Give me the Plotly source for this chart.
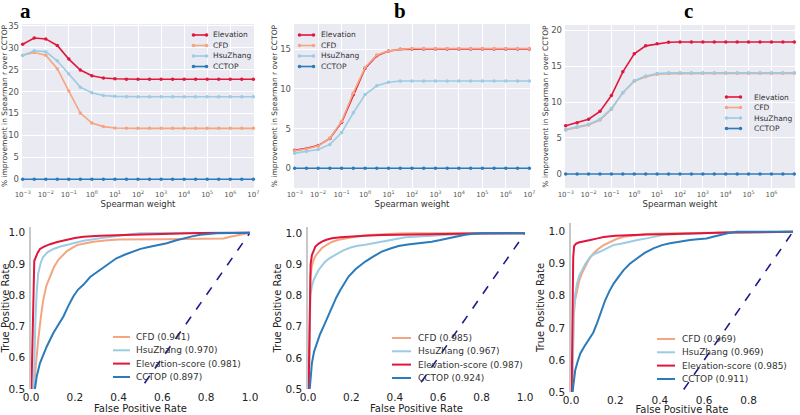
import plotly.graph_objects as go

W, H = 800, 415

# ---------------- data: top row (% improvement vs Spearman weight) ----------------
weights = [0.001, 0.00316, 0.01, 0.0316, 0.1, 0.316, 1.0, 3.16, 10.0, 31.6, 100.0,
           316.0, 1000.0, 3162.0, 10000.0, 31623.0, 100000.0, 316228.0, 1000000.0,
           3162278.0, 10000000.0]
weight_ticks = [1e-3, 1e-2, 1e-1, 1e0, 1e1, 1e2, 1e3, 1e4, 1e5, 1e6, 1e7]
weight_tick_labels = ["10<sup>−3</sup>", "10<sup>−2</sup>", "10<sup>−1</sup>", "10<sup>0</sup>",
                      "10<sup>1</sup>", "10<sup>2</sup>", "10<sup>3</sup>", "10<sup>4</sup>",
                      "10<sup>5</sup>", "10<sup>6</sup>", "10<sup>7</sup>"]
top_names = ["Elevation", "CFD", "HsuZhang", "CCTOP"]

a_elev = [30.8, 32.2, 32.0, 30.5, 27.4, 24.9, 23.6, 23.1, 22.9, 22.8, 22.8, 22.8, 22.8, 22.8,
          22.8, 22.8, 22.8, 22.8, 22.8, 22.8, 22.8]
a_cfd = [28.3, 28.9, 28.3, 25.2, 20.1, 15.1, 12.8, 12.0, 11.7, 11.6, 11.6, 11.6, 11.6, 11.6,
         11.6, 11.6, 11.6, 11.6, 11.6, 11.6, 11.6]
a_hsu = [28.2, 29.3, 29.1, 27.0, 24.0, 21.0, 19.7, 19.1, 18.9, 18.8, 18.8, 18.8, 18.8, 18.8,
         18.8, 18.8, 18.8, 18.8, 18.8, 18.8, 18.8]
a_cctop = [0.0, 0.0, 0.0, 0.0, 0.0, 0.0, 0.0, 0.0, 0.0, 0.0, 0.0, 0.0, 0.0, 0.0, 0.0, 0.0,
           0.0, 0.0, 0.0, 0.0, 0.0]

b_elev = [2.25, 2.5, 2.85, 3.75, 5.8, 9.3, 12.6, 14.2, 14.8, 15.0, 15.05, 15.05, 15.05, 15.05,
          15.05, 15.05, 15.05, 15.05, 15.05, 15.05, 15.05]
b_cfd = [2.2, 2.45, 2.8, 3.8, 5.9, 9.5, 12.7, 14.3, 14.8, 15.0, 15.1, 15.1, 15.1, 15.1, 15.1,
         15.1, 15.1, 15.1, 15.1, 15.1, 15.1]
b_hsu = [1.9, 2.1, 2.35, 3.0, 4.5, 7.0, 9.3, 10.4, 10.85, 11.0, 11.0, 11.0, 11.0, 11.0, 11.0,
         11.0, 11.0, 11.0, 11.0, 11.0, 11.0]
b_cctop = [0.0, 0.0, 0.0, 0.0, 0.0, 0.0, 0.0, 0.0, 0.0, 0.0, 0.0, 0.0, 0.0, 0.0, 0.0, 0.0,
           0.0, 0.0, 0.0, 0.0, 0.0]

c_elev = [6.7, 7.1, 7.6, 8.7, 10.9, 14.2, 16.7, 17.8, 18.1, 18.3, 18.33, 18.33, 18.33, 18.33,
          18.33, 18.33, 18.33, 18.33, 18.33, 18.33, 18.33]
c_cfd = [6.1, 6.5, 6.8, 7.5, 9.0, 11.3, 12.9, 13.5, 13.85, 13.95, 13.98, 13.98, 13.98, 13.98,
         13.98, 13.98, 13.98, 13.98, 13.98, 13.98, 13.98]
c_hsu = [6.2, 6.55, 6.9, 7.6, 9.1, 11.3, 12.95, 13.6, 13.95, 14.05, 14.07, 14.07, 14.07, 14.07,
         14.07, 14.07, 14.07, 14.07, 14.07, 14.07, 14.07]
c_cctop = [0.0, 0.0, 0.0, 0.0, 0.0, 0.0, 0.0, 0.0, 0.0, 0.0, 0.0, 0.0, 0.0, 0.0, 0.0, 0.0,
           0.0, 0.0, 0.0, 0.0, 0.0]

# ---------------- data: bottom row (ROC curves) ----------------
roc_names = ["CFD", "HsuZhang", "Elevation-score", "CCTOP"]
a_auc = ["0.941", "0.970", "0.981", "0.897"]
b_auc = ["0.985", "0.967", "0.987", "0.924"]
c_auc = ["0.969", "0.969", "0.985", "0.911"]
diag_x = [0.0, 1.0]
diag_y = [0.0, 1.0]

a_cfd_fpr = [0.012, 0.02, 0.033, 0.045, 0.056, 0.07, 0.087, 0.105, 0.125, 0.145, 0.163, 0.19,
             0.21, 0.25, 0.285, 0.35, 0.4, 0.6, 0.8, 0.88, 0.91, 0.95, 1.0]
a_cfd_tpr = [0.5, 0.57, 0.657, 0.73, 0.785, 0.83, 0.86, 0.89, 0.913, 0.928, 0.94, 0.952, 0.96,
             0.966, 0.971, 0.976, 0.978, 0.979, 0.979, 0.981, 0.987, 0.993, 1.0]
a_hsu_fpr = [0.012, 0.016, 0.02, 0.026, 0.033, 0.045, 0.056, 0.075, 0.1, 0.13, 0.163, 0.2,
             0.24, 0.315, 0.39, 0.45, 0.5, 0.6, 1.0]
a_hsu_tpr = [0.5, 0.62, 0.72, 0.81, 0.87, 0.905, 0.923, 0.937, 0.947, 0.955, 0.961, 0.968,
             0.974, 0.982, 0.99, 0.995, 0.998, 0.999, 1.0]
a_elev_fpr = [0.002, 0.008, 0.015, 0.03, 0.041, 0.06, 0.087, 0.12, 0.163, 0.2, 0.24, 0.315,
              0.467, 0.62, 0.77, 1.0]
a_elev_tpr = [0.5, 0.75, 0.91, 0.935, 0.948, 0.955, 0.963, 0.97, 0.977, 0.983, 0.987, 0.99,
              0.993, 0.997, 0.999, 1.0]
a_cctop_fpr = [0.018, 0.026, 0.041, 0.055, 0.072, 0.102, 0.125, 0.148, 0.17, 0.193, 0.215,
               0.239, 0.27, 0.315, 0.35, 0.39, 0.43, 0.467, 0.5, 0.543, 0.58, 0.62, 0.66,
               0.696, 0.735, 0.772, 0.848, 1.0]
a_cctop_tpr = [0.5, 0.54, 0.583, 0.61, 0.636, 0.679, 0.705, 0.732, 0.765, 0.796, 0.818, 0.833,
               0.858, 0.881, 0.9, 0.918, 0.93, 0.939, 0.948, 0.955, 0.96, 0.966, 0.975, 0.982,
               0.988, 0.993, 0.998, 1.0]

b_cfd_fpr = [0.004, 0.008, 0.011, 0.018, 0.026, 0.037, 0.049, 0.065, 0.087, 0.11, 0.141, 0.18,
             0.218, 0.28, 0.34, 0.42, 0.49, 1.0]
b_cfd_tpr = [0.5, 0.75, 0.86, 0.895, 0.915, 0.93, 0.941, 0.953, 0.963, 0.972, 0.979, 0.985,
             0.989, 0.994, 0.997, 0.999, 1.0, 1.0]
b_hsu_fpr = [0.004, 0.007, 0.011, 0.018, 0.026, 0.037, 0.049, 0.065, 0.08, 0.1, 0.126, 0.16,
             0.2, 0.23, 0.264, 0.3, 0.34, 0.38, 0.417, 0.45, 0.49, 0.55, 0.647, 0.8, 1.0]
b_hsu_tpr = [0.5, 0.7, 0.8, 0.83, 0.85, 0.866, 0.882, 0.897, 0.909, 0.92, 0.931, 0.944, 0.955,
             0.96, 0.963, 0.968, 0.973, 0.979, 0.984, 0.987, 0.989, 0.992, 0.995, 0.999, 1.0]
b_elev_fpr = [0.003, 0.007, 0.012, 0.018, 0.025, 0.034, 0.048, 0.064, 0.085, 0.11, 0.15, 0.187,
              0.26, 0.34, 0.45, 0.57, 0.75, 1.0]
b_elev_tpr = [0.5, 0.75, 0.9, 0.93, 0.945, 0.957, 0.966, 0.973, 0.979, 0.984, 0.987, 0.989,
              0.992, 0.994, 0.996, 0.997, 0.999, 1.0]
b_cctop_fpr = [0.008, 0.012, 0.018, 0.028, 0.041, 0.055, 0.072, 0.09, 0.11, 0.13, 0.149, 0.168,
               0.187, 0.22, 0.264, 0.3, 0.34, 0.38, 0.417, 0.46, 0.5, 0.57, 0.61, 0.647,
               0.685, 0.724, 0.76, 0.8, 1.0]
b_cctop_tpr = [0.5, 0.545, 0.583, 0.62, 0.647, 0.675, 0.701, 0.73, 0.765, 0.793, 0.818, 0.84,
               0.861, 0.885, 0.909, 0.925, 0.941, 0.951, 0.959, 0.964, 0.967, 0.973, 0.978,
               0.984, 0.99, 0.995, 0.998, 1.0, 1.0]

c_cfd_fpr = [0.006, 0.009, 0.012, 0.018, 0.027, 0.037, 0.049, 0.063, 0.079, 0.097, 0.117,
             0.145, 0.177, 0.205, 0.237, 0.29, 0.341, 0.41, 0.49, 0.7, 1.0]
c_cfd_tpr = [0.5, 0.64, 0.734, 0.785, 0.818, 0.847, 0.87, 0.891, 0.911, 0.929, 0.943, 0.957,
             0.969, 0.977, 0.984, 0.989, 0.993, 0.994, 0.995, 0.997, 1.0]
c_hsu_fpr = [0.006, 0.009, 0.012, 0.018, 0.027, 0.037, 0.049, 0.065, 0.087, 0.11, 0.132, 0.16,
             0.19, 0.23, 0.266, 0.3, 0.341, 0.38, 0.416, 0.47, 0.566, 0.7, 1.0]
c_hsu_tpr = [0.5, 0.67, 0.755, 0.8, 0.838, 0.862, 0.88, 0.9, 0.922, 0.932, 0.938, 0.947, 0.958,
             0.963, 0.969, 0.974, 0.979, 0.985, 0.99, 0.992, 0.995, 0.997, 1.0]
c_elev_fpr = [0.003, 0.006, 0.01, 0.014, 0.022, 0.034, 0.05, 0.087, 0.12, 0.147, 0.2, 0.266,
              0.34, 0.416, 0.566, 0.7, 0.865, 1.0]
c_elev_tpr = [0.5, 0.75, 0.92, 0.955, 0.962, 0.966, 0.969, 0.974, 0.979, 0.983, 0.987, 0.99,
              0.991, 0.992, 0.995, 0.997, 0.998, 1.0]
c_cctop_fpr = [0.007, 0.012, 0.019, 0.03, 0.042, 0.06, 0.079, 0.1, 0.117, 0.135, 0.154, 0.172,
               0.192, 0.215, 0.237, 0.265, 0.296, 0.33, 0.371, 0.41, 0.446, 0.49, 0.536, 0.57,
               0.61, 0.64, 0.671, 0.71, 0.746, 0.85, 1.0]
c_cctop_tpr = [0.5, 0.535, 0.568, 0.595, 0.62, 0.642, 0.661, 0.685, 0.714, 0.748, 0.786, 0.813,
               0.838, 0.86, 0.88, 0.9, 0.917, 0.933, 0.948, 0.958, 0.964, 0.97, 0.974, 0.976,
               0.979, 0.984, 0.99, 0.996, 1.0, 1.0, 1.0]

# ---------------- styles ----------------
C_ELEV = "#e0173c"
C_CFD = "#f4a582"
C_HSU = "#9ccbe3"
C_CCTOP = "#2b7bba"
C_DIAG = "#1c1c8a"
TOP_BG = "#eaeaf2"
FONT = "DejaVu Sans"

def px(x):
    return x / W

def py(y):
    return 1 - y / H

fig = go.Figure()

top_sets = [
    ("x", "y", [a_elev, a_cfd, a_hsu, a_cctop]),
    ("x2", "y2", [b_elev, b_cfd, b_hsu, b_cctop]),
    ("x3", "y3", [c_elev, c_cfd, c_hsu, c_cctop]),
]
top_colors = [C_ELEV, C_CFD, C_HSU, C_CCTOP]
for xa, ya, series in top_sets:
    for name, vals, col in zip(top_names, series, top_colors):
        fig.add_trace(go.Scatter(x=weights, y=vals, name=name, mode="lines+markers",
                                 line=dict(color=col, width=1.6),
                                 marker=dict(color=col, size=3.5),
                                 xaxis=xa, yaxis=ya, showlegend=False, cliponaxis=False))

bot_sets = [
    ("x4", "y4", [(a_cfd_fpr, a_cfd_tpr), (a_hsu_fpr, a_hsu_tpr), (a_elev_fpr, a_elev_tpr),
                  (a_cctop_fpr, a_cctop_tpr)], a_auc),
    ("x5", "y5", [(b_cfd_fpr, b_cfd_tpr), (b_hsu_fpr, b_hsu_tpr), (b_elev_fpr, b_elev_tpr),
                  (b_cctop_fpr, b_cctop_tpr)], b_auc),
    ("x6", "y6", [(c_cfd_fpr, c_cfd_tpr), (c_hsu_fpr, c_hsu_tpr), (c_elev_fpr, c_elev_tpr),
                  (c_cctop_fpr, c_cctop_tpr)], c_auc),
]
bot_colors = [C_CFD, C_HSU, C_ELEV, C_CCTOP]
for xa, ya, curves, aucs in bot_sets:
    fig.add_trace(go.Scatter(x=diag_x, y=diag_y, mode="lines", showlegend=False,
                             line=dict(color=C_DIAG, width=1.6, dash="dash"),
                             xaxis=xa, yaxis=ya))
    for name, (fx, ty), col, auc in zip(roc_names, curves, bot_colors, aucs):
        fig.add_trace(go.Scatter(x=fx, y=ty, name=f"{name} ({auc})", mode="lines",
                                 line=dict(color=col, width=2), showlegend=False,
                                 xaxis=xa, yaxis=ya))

# ---------------- axes ----------------
top_dom = [([22, 254], [24, 188], [-2.0, 35.4]),
           ([294, 530], [24, 188], [-2.5, 18.2]),
           ([565, 795], [25, 188], [-1.95, 20.7])]
bot_dom = [([31, 250], [227, 389], [0.5, 1.018]),
           ([308, 525], [227, 389], [0.5, 1.02]),
           ([571, 793], [223, 392], [0.5, 1.027])]

layout = dict(width=W, height=H, margin=dict(l=0, r=0, t=0, b=0),
              paper_bgcolor="white", plot_bgcolor="white",
              font=dict(family=FONT, color="#333333"), showlegend=False)
shapes = []
annotations = []

for i, (xd, yd, yr) in enumerate(top_dom):
    k = "" if i == 0 else str(i + 1)
    layout["xaxis" + k] = dict(
        domain=[px(xd[0]), px(xd[1])], anchor="y" + k, type="log", automargin=False,
        range=[-3.03, 7.03], tickvals=weight_ticks, ticktext=weight_tick_labels,
        showgrid=True, gridcolor="white", gridwidth=1, zeroline=False, ticks="",
        tickfont=dict(size=7, color="#555555"), ticklabelstandoff=1,
        title=dict(text="Spearman weight", font=dict(size=8.5, color="#333333"), standoff=1))
    layout["yaxis" + k] = dict(
        domain=[py(yd[1]), py(yd[0])], anchor="x" + k, range=yr, dtick=5, automargin=False,
        showgrid=True, gridcolor="white", gridwidth=1, zeroline=False, ticks="",
        tickfont=dict(size=8.5, color="#555555"), ticklabelstandoff=2,
        title=dict(text="% improvement in Spearman r over CCTOP",
                   font=dict(size=7.5, color="#333333"), standoff=1))
    shapes.append(dict(type="rect", xref=f"x{k} domain", yref=f"y{k} domain",
                       x0=0, x1=1, y0=0, y1=1, fillcolor=TOP_BG, line=dict(width=0),
                       layer="below"))

for i, (xd, yd, yr) in enumerate(bot_dom):
    k = str(i + 4)
    layout["xaxis" + k] = dict(
        domain=[px(xd[0]), px(xd[1])], anchor="y" + k, range=[0, 1], dtick=0.2,
        tickformat=".1f", showgrid=False, zeroline=False, ticks="", automargin=False,
        tickfont=dict(size=10.5, color="#222222"), ticklabelstandoff=0,
        title=dict(text="False Positive Rate", font=dict(size=10, color="#222222"), standoff=1))
    layout["yaxis" + k] = dict(
        domain=[py(yd[1]), py(yd[0])], anchor="x" + k, range=yr, dtick=0.1, tick0=0.5,
        tickformat=".1f", showgrid=False, zeroline=False, ticks="", automargin=False,
        showline=True, linecolor="#c8c8c8", linewidth=1.5,
        tickfont=dict(size=10.5, color="#222222"), ticklabelstandoff=2,
        title=dict(text="True Positive Rate", font=dict(size=10, color="#222222"), standoff=2))

# ---------------- legends (drawn as layout shapes + text) ----------------
def top_legend(x0, x1, xt, ys):
    for name, col, y in zip(top_names, top_colors, ys):
        shapes.append(dict(type="line", xref="paper", yref="paper", x0=px(x0), x1=px(x1),
                           y0=py(y), y1=py(y), line=dict(color=col, width=1.6)))
        for xc in (x0 + 1.5, x1 - 1.5):
            shapes.append(dict(type="circle", xref="paper", yref="paper",
                               xsizemode="pixel", ysizemode="pixel",
                               xanchor=px(xc), yanchor=py(y), x0=-1.8, x1=1.8, y0=-1.8, y1=1.8,
                               fillcolor=col, line=dict(width=0)))
        annotations.append(dict(x=px(xt), y=py(y), xref="paper", yref="paper", text=name,
                                showarrow=False, xanchor="left", yanchor="middle",
                                font=dict(size=7.5, color="#333333")))

def bot_legend(x0, x1, xt, ys, aucs):
    for name, col, y, auc in zip(roc_names, bot_colors, ys, aucs):
        shapes.append(dict(type="line", xref="paper", yref="paper", x0=px(x0), x1=px(x1),
                           y0=py(y), y1=py(y), line=dict(color=col, width=2)))
        annotations.append(dict(x=px(xt), y=py(y), xref="paper", yref="paper",
                                text=f"{name} ({auc})", showarrow=False, xanchor="left",
                                yanchor="middle", font=dict(size=9, color="#333333")))

top_legend(192, 208, 211, [35, 45.5, 56, 66.5])
top_legend(298, 315, 319, [35, 45.5, 56, 66.5])
top_legend(725, 742, 752, [97, 107.5, 118, 128.5])
bot_legend(113, 130, 134, [337, 350.3, 363.6, 377], a_auc)
bot_legend(392, 411, 416, [338, 351.3, 364.6, 378], b_auc)
bot_legend(657, 675, 680, [339, 352.3, 365.6, 379], c_auc)

for letter, x in (("a", 25), ("b", 400), ("c", 688)):
    annotations.append(dict(x=px(x), y=py(11), xref="paper", yref="paper", text=f"<b>{letter}</b>",
                            showarrow=False, xanchor="center", yanchor="middle",
                            font=dict(family="Liberation Serif", size=21, color="#000000")))

layout["shapes"] = shapes
layout["annotations"] = annotations
fig.update_layout(**layout)
fig.write_html("out.html", config={"displayModeBar": False},
               post_script="document.body.style.margin='0px';")
